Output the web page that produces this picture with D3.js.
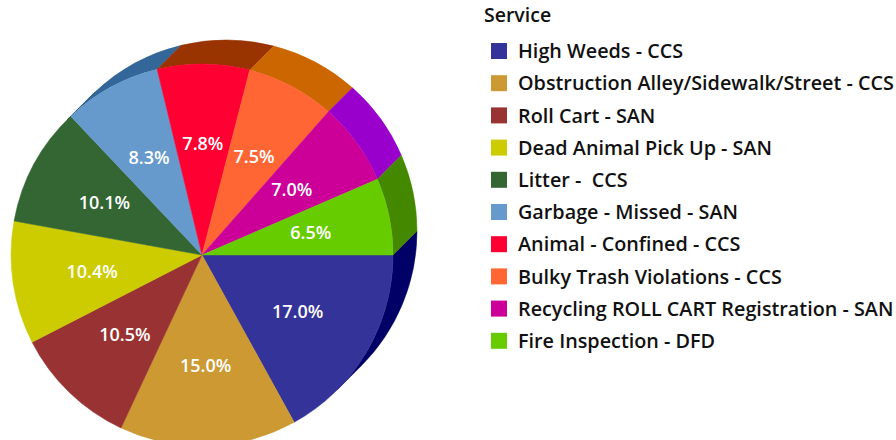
<!DOCTYPE html>
<html>
<head>
<meta charset="utf-8">
<script src="https://cdn.jsdelivr.net/npm/d3@7"></script>
<style>
  body { margin: 0; background: #fff; }
  svg { display: block; font-family: "Open Sans", sans-serif; }
</style>
</head>
<body>
<svg id="chart"></svg>
<script>
const categories = [
  'High Weeds - CCS',
  'Obstruction Alley/Sidewalk/Street - CCS',
  'Roll Cart - SAN',
  'Dead Animal Pick Up - SAN',
  'Litter -  CCS',
  'Garbage - Missed - SAN',
  'Animal - Confined - CCS',
  'Bulky Trash Violations - CCS',
  'Recycling ROLL CART Registration - SAN',
  'Fire Inspection - DFD'
]
const shares = [17.0, 15.0, 10.5, 10.4, 10.1, 8.3, 7.8, 7.5, 7.0, 6.5]
const topColors = ['#333399', '#cc9933', '#993333', '#cccc00', '#336633',
                   '#6699cc', '#ff0033', '#ff6633', '#cc0099', '#66cc00']
const sideColors = ['#000066', '#996600', '#660000', '#999900', '#003300',
                    '#336699', '#993300', '#cc6600', '#9900cc', '#448800']

const
    width = 896,
    height = 440,
    cx = 202,
    cy = 255,
    radius = 191,
    depth = 24,
    labelRadius = 111

let svg = d3.select('#chart')
    .attr('width', width)
    .attr('height', height)

let pie = d3.pie()
    .sort(null)
    .startAngle(Math.PI / 2)
    .endAngle(Math.PI / 2 + 2 * Math.PI)

let arcs = pie(shares)

// side of the cylinder: extruded up-right, visible only where the rim faces that way
// (screen angle 0 = 3 o'clock, clockwise). Visible rim: [0, pi/4] and [5pi/4, 2pi]
const visible = [[0, Math.PI / 4], [5 * Math.PI / 4, 2 * Math.PI]]

let side = svg.append('g')
arcs.forEach((a, i) => {
  let p0 = a.startAngle - Math.PI / 2,
      p1 = a.endAngle - Math.PI / 2
  visible.forEach(([v0, v1]) => {
    let s = Math.max(p0, v0), e = Math.min(p1, v1)
    if (e <= s) return
    let path = d3.path()
    path.moveTo(cx + radius * Math.cos(s), cy + radius * Math.sin(s))
    path.arc(cx, cy, radius, s, e, false)
    path.lineTo(cx + depth + radius * Math.cos(e), cy - depth + radius * Math.sin(e))
    path.arc(cx + depth, cy - depth, radius, e, s, true)
    path.closePath()
    side.append('path')
        .attr('d', path.toString())
        .attr('fill', sideColors[i])
        .attr('stroke', sideColors[i])
        .attr('stroke-width', 0.5)
  })
})

let arc = d3.arc().innerRadius(0).outerRadius(radius)
let labelArc = d3.arc().innerRadius(labelRadius).outerRadius(labelRadius)

let face = svg.append('g')
    .attr('transform', `translate(${cx},${cy})`)

face.selectAll('path')
    .data(arcs)
    .enter()
    .append('path')
        .attr('d', arc)
        .attr('fill', (d, i) => topColors[i])
        .attr('stroke', (d, i) => topColors[i])
        .attr('stroke-width', 0.5)

face.selectAll('text')
    .data(arcs)
    .enter()
    .append('text')
    .text(d => d.data.toFixed(1) + '%')
        .attr('transform', d => `translate(${labelArc.centroid(d)})`)
        .attr('text-anchor', 'middle')
        .attr('dy', '0.36em')
        .attr('fill', '#fff')
        .style('font-size', '18px')
        .style('font-weight', 600)

// legend
let legend = svg.append('g')

legend.append('text')
    .text('Service')
    .attr('x', 484)
    .attr('y', 22)
    .style('font-size', '19.5px')
    .style('font-weight', 600)
    .attr('fill', '#111')

let item = legend.selectAll('g.item')
    .data(categories)
    .enter()
    .append('g')
    .attr('class', 'item')
    .attr('transform', (d, i) => `translate(491, ${51 + i * 32.2})`)

item.append('rect')
    .attr('x', 0)
    .attr('y', -8)
    .attr('width', 16)
    .attr('height', 16)
    .attr('fill', (d, i) => topColors[i])

item.append('text')
    .text(d => d)
    .attr('x', 27)
    .attr('dy', '0.36em')
    .style('font-size', '19.8px')
    .style('font-weight', 600)
    .style('white-space', 'pre')
    .attr('fill', '#111')
</script>
</body>
</html>
